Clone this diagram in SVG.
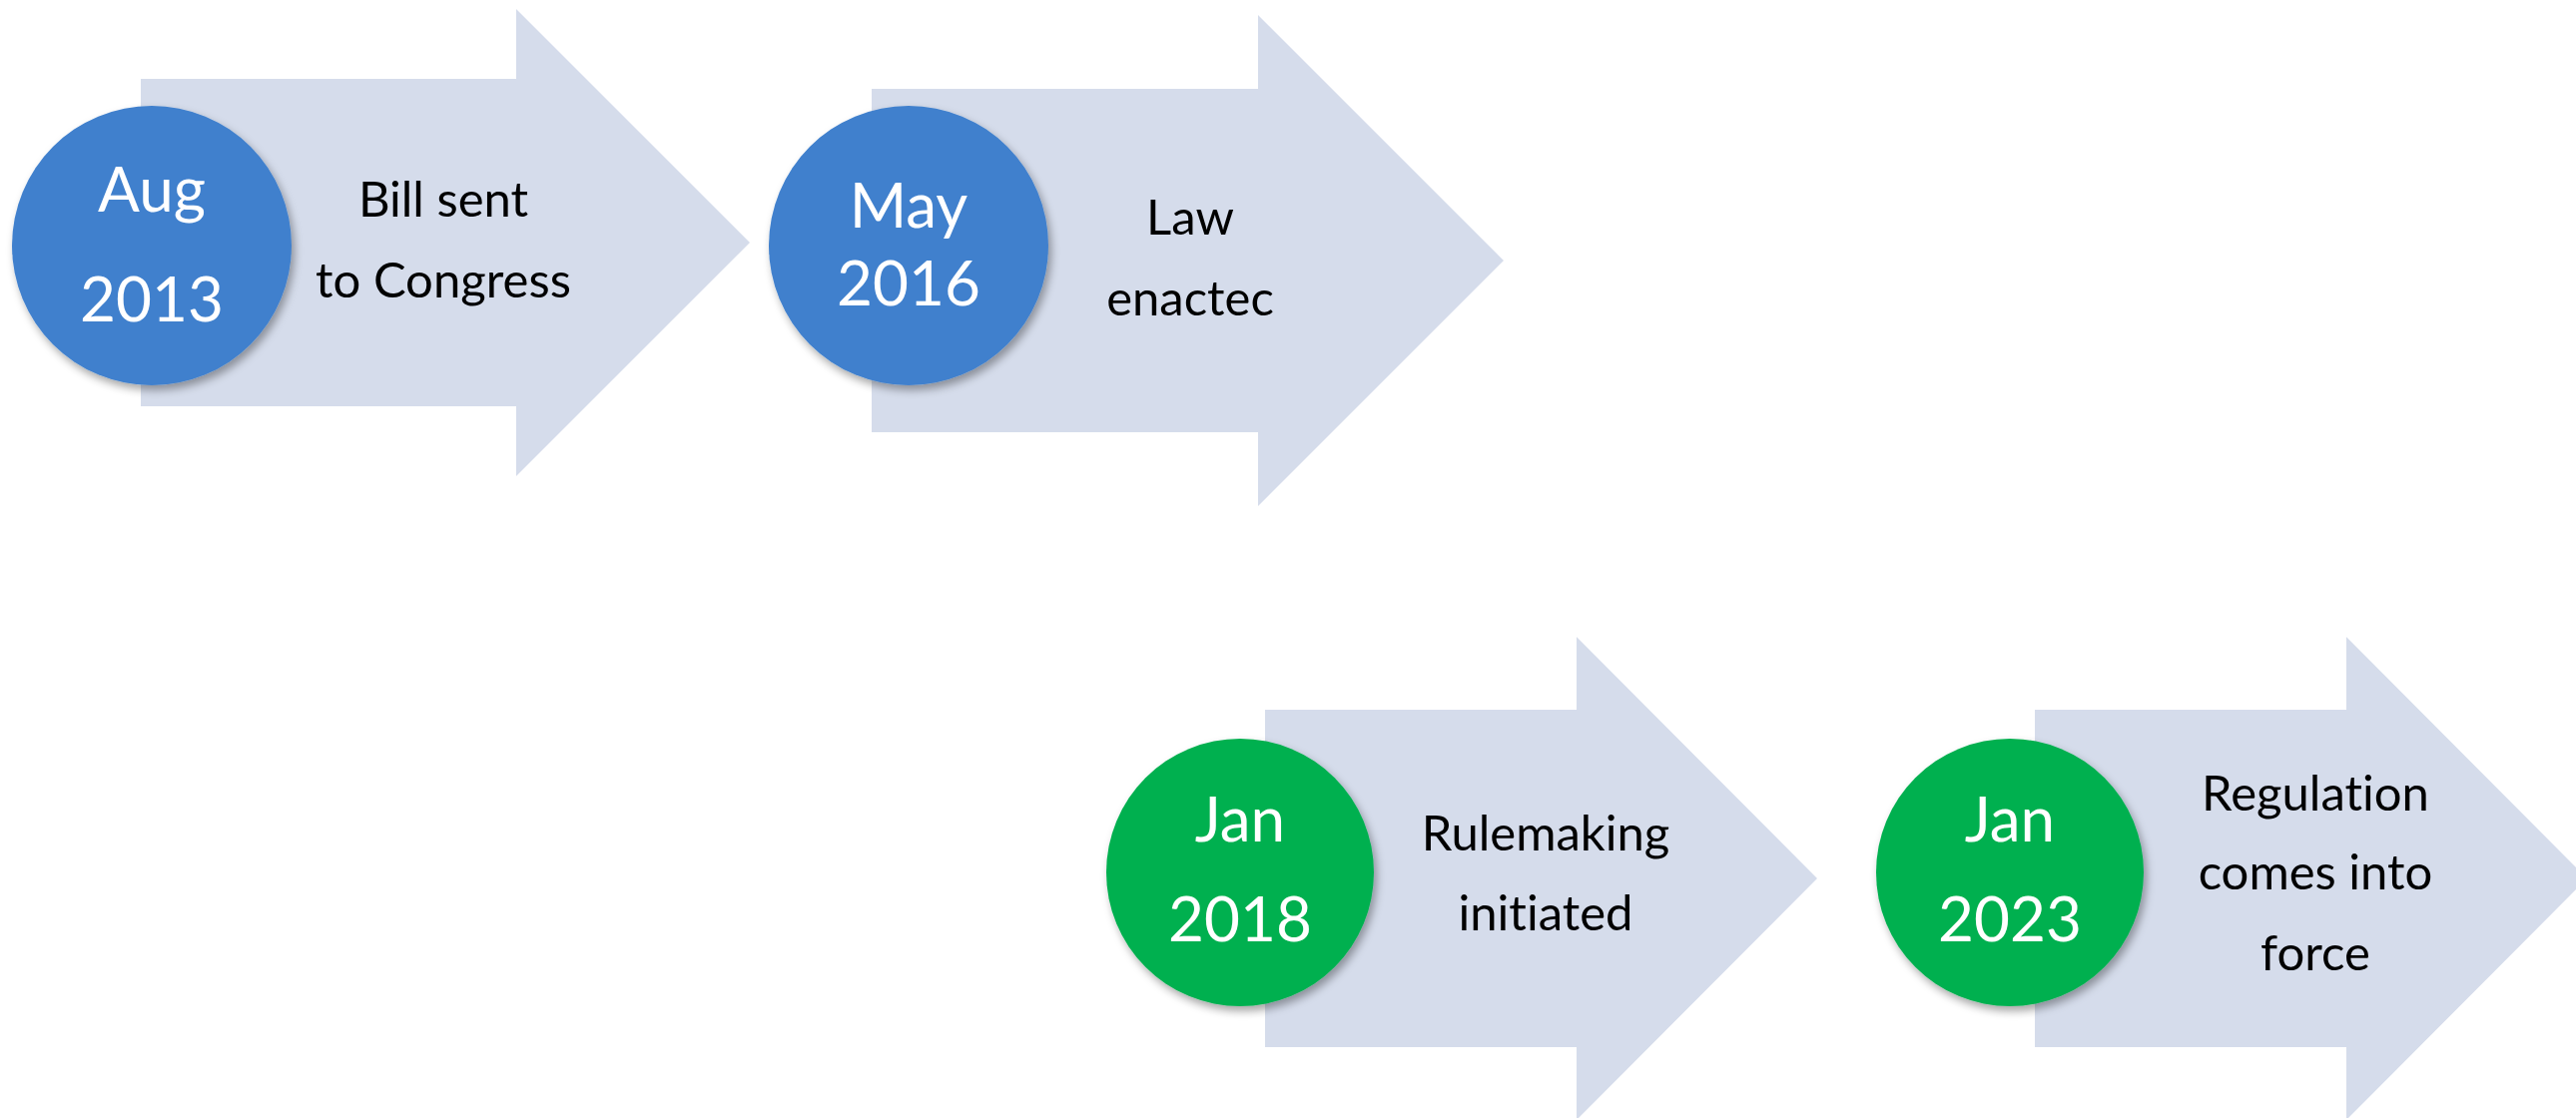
<svg xmlns="http://www.w3.org/2000/svg" width="2580" height="1120" viewBox="0 0 2580 1120">
  <style>
    .arrow { fill: #D5DCEB; }
    .blue { fill: #4080CD; }
    .green { fill: #00B050; }
    text { font-family: Lato, "Open Sans", "Liberation Sans", sans-serif; text-anchor: middle; font-variant-ligatures: none; font-feature-settings: "liga" 0; }
    .date { font-size: 62px; fill: #FFFFFF; }
    .label { font-size: 49px; fill: #000000; }
  </style>
  <defs>
    <filter id="shadow" x="-20%" y="-20%" width="150%" height="150%">
      <feDropShadow dx="3" dy="5" stdDeviation="4" flood-color="#000000" flood-opacity="0.35"/>
    </filter>
  </defs>
  <rect width="2580" height="1120" fill="#FFFFFF"/>

  <!-- Aug 2013 -->
  <g id="step-2013">
    <polygon class="arrow" points="141,79 517,79 517,9 751,243 517,477 517,407 141,407"/>
    <circle class="blue" cx="152" cy="246" r="140" filter="url(#shadow)"/>
    <text class="date" x="152" y="212">Aug</text>
    <text class="date" x="152" y="322">2013</text>
    <text class="label" x="444" y="217">Bill sent</text>
    <text class="label" x="444" y="298">to Congress</text>
  </g>

  <!-- May 2016 -->
  <g id="step-2016">
    <polygon class="arrow" points="873,89 1260,89 1260,15 1506,261 1260,507 1260,433 873,433"/>
    <circle class="blue" cx="910" cy="246" r="140" filter="url(#shadow)"/>
    <text class="date" x="910" y="228">May</text>
    <text class="date" x="910" y="306">2016</text>
    <text class="label" x="1192" y="235">Law</text>
    <text class="label" x="1192" y="316">enactec</text>
  </g>

  <!-- Jan 2018 -->
  <g id="step-2018">
    <polygon class="arrow" points="1267,711 1579,711 1579,638 1820,880 1579,1122 1579,1049 1267,1049"/>
    <circle class="green" cx="1242" cy="874" r="134" filter="url(#shadow)"/>
    <text class="date" x="1242" y="843">Jan</text>
    <text class="date" x="1242" y="943">2018</text>
    <text class="label" x="1548" y="852">Rulemaking</text>
    <text class="label" x="1548" y="932">initiated</text>
  </g>

  <!-- Jan 2023 -->
  <g id="step-2023">
    <polygon class="arrow" points="2038,711 2350,711 2350,638 2591,880 2350,1122 2350,1049 2038,1049"/>
    <circle class="green" cx="2013" cy="874" r="134" filter="url(#shadow)"/>
    <text class="date" x="2013" y="843">Jan</text>
    <text class="date" x="2013" y="943">2023</text>
    <text class="label" x="2319" y="812">Regulation</text>
    <text class="label" x="2319" y="891">comes into</text>
    <text class="label" x="2319" y="972">force</text>
  </g>
</svg>
